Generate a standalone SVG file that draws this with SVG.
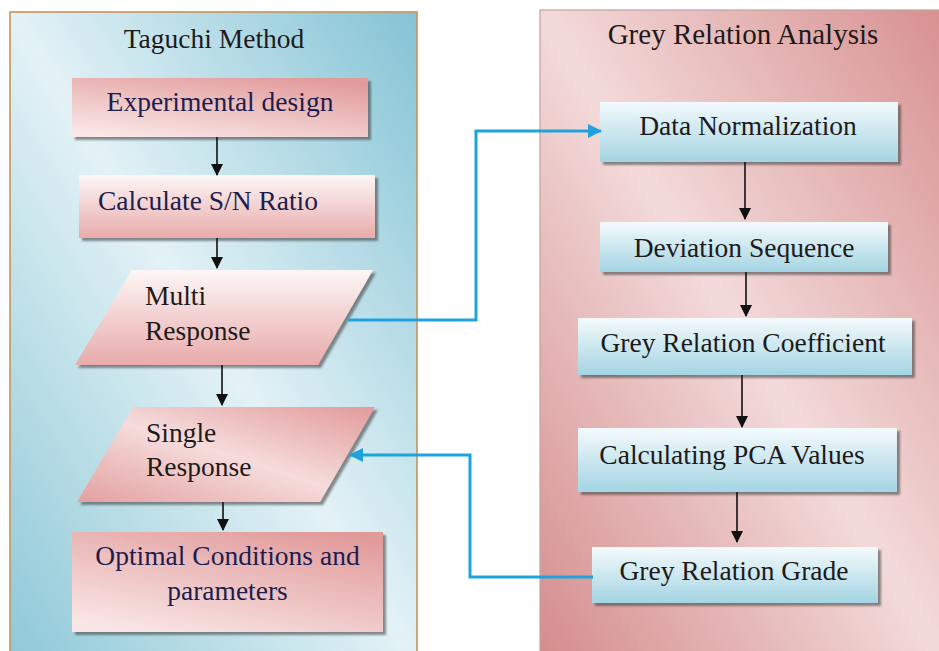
<svg xmlns="http://www.w3.org/2000/svg" width="939" height="651" viewBox="0 0 939 651">
  <defs>
    <!-- panel fills: darker toward two corners, light band along the diagonal -->
    <linearGradient id="gBluePanel" x1="1" y1="0" x2="0" y2="1">
      <stop offset="0" stop-color="#84c3d5"/>
      <stop offset="0.5" stop-color="#e3f2f6"/>
      <stop offset="1" stop-color="#8ec8d7"/>
    </linearGradient>
    <linearGradient id="gPinkPanel" x1="1" y1="0" x2="0" y2="1">
      <stop offset="0" stop-color="#d78f8f"/>
      <stop offset="0.5" stop-color="#f3dada"/>
      <stop offset="1" stop-color="#d48b8b"/>
    </linearGradient>
    <!-- node fills -->
    <linearGradient id="gPinkDeep" x1="0.8" y1="0" x2="0.2" y2="1">
      <stop offset="0" stop-color="#e29b9b"/>
      <stop offset="1" stop-color="#f9e6e6"/>
    </linearGradient>
    <linearGradient id="gPinkSoft" x1="0" y1="0" x2="0" y2="1">
      <stop offset="0" stop-color="#fdf6f6"/>
      <stop offset="1" stop-color="#e8abab"/>
    </linearGradient>
    <linearGradient id="gPinkBand" x1="1" y1="0" x2="0" y2="1">
      <stop offset="0" stop-color="#e29a9a"/>
      <stop offset="0.5" stop-color="#f6dcdc"/>
      <stop offset="1" stop-color="#e3a0a0"/>
    </linearGradient>
    <linearGradient id="gBlueBox" x1="0" y1="0" x2="0" y2="1">
      <stop offset="0" stop-color="#f4fafc"/>
      <stop offset="1" stop-color="#a4d5e3"/>
    </linearGradient>
    <filter id="shadow" x="-5%" y="-10%" width="115%" height="130%">
      <feDropShadow dx="3" dy="3" stdDeviation="1" flood-color="#444" flood-opacity="0.6"/>
    </filter>
    <marker id="arrowBlack" markerWidth="12" markerHeight="14" refX="11" refY="6" orient="auto" markerUnits="userSpaceOnUse">
      <path d="M0,0 L12,6 L0,12 Z" fill="#111"/>
    </marker>
    <marker id="arrowBlue" markerWidth="14" markerHeight="14" refX="13" refY="7" orient="auto" markerUnits="userSpaceOnUse">
      <path d="M0,0 L14,7 L0,14 Z" fill="#1ea3dd"/>
    </marker>
  </defs>
  <style>
    text { font-family: Liberation Serif, Times New Roman, Times, DejaVu Serif, serif; font-size: 27.5px; }
    .navy { fill: #1d1d4f; }
    .ink { fill: #1f1a1a; }
    .mid { text-anchor: middle; }
    .flow { stroke: #111; stroke-width: 1.6; fill: none; marker-end: url(#arrowBlack); }
    .link { stroke: #1ea3dd; stroke-width: 3; fill: none; marker-end: url(#arrowBlue); }
  </style>

  <rect width="939" height="651" fill="#ffffff"/>

  <!-- Taguchi Method panel -->
  <g id="panel-taguchi">
    <rect x="10" y="12" width="407" height="650" fill="url(#gBluePanel)" stroke="#c8925a" stroke-width="1.6"/>
    <text class="ink mid" x="214" y="48">Taguchi Method</text>
  </g>

  <!-- Grey Relation Analysis panel -->
  <g id="panel-gra">
    <rect x="540" y="10" width="410" height="660" fill="url(#gPinkPanel)" stroke="#c9a0a0" stroke-width="1.2"/>
    <text class="ink mid" x="743" y="44" style="font-size:29px">Grey Relation Analysis</text>
  </g>

  <!-- Taguchi steps -->
  <g id="node-experimental-design">
    <rect x="72" y="78" width="296" height="59" fill="url(#gPinkDeep)" filter="url(#shadow)"/>
    <text class="navy mid" x="220" y="111">Experimental design</text>
  </g>
  <g id="node-sn-ratio">
    <rect x="79" y="175" width="296" height="63" fill="url(#gPinkSoft)" filter="url(#shadow)"/>
    <text class="navy" x="98" y="210">Calculate S/N Ratio</text>
  </g>
  <g id="node-multi-response">
    <polygon points="132,270 373,270 318,365 75,365" fill="url(#gPinkSoft)" filter="url(#shadow)"/>
    <text class="ink" x="145" y="305">Multi</text>
    <text class="ink" x="145" y="340">Response</text>
  </g>
  <g id="node-single-response">
    <polygon points="133,407 375,407 320,502 77,502" fill="url(#gPinkBand)" filter="url(#shadow)"/>
    <text class="ink" x="146" y="442">Single</text>
    <text class="ink" x="146" y="476">Response</text>
  </g>
  <g id="node-optimal">
    <rect x="72" y="532" width="311" height="100" fill="url(#gPinkDeep)" filter="url(#shadow)"/>
    <text class="navy mid" x="227.5" y="565">Optimal Conditions and</text>
    <text class="navy mid" x="227.5" y="600">parameters</text>
  </g>

  <!-- Grey relation steps -->
  <g id="node-normalization">
    <rect x="600" y="102" width="298" height="60" fill="url(#gBlueBox)" filter="url(#shadow)"/>
    <text class="ink mid" x="748" y="135">Data Normalization</text>
  </g>
  <g id="node-deviation">
    <rect x="600" y="222" width="288" height="50" fill="url(#gBlueBox)" filter="url(#shadow)"/>
    <text class="ink mid" x="744" y="257">Deviation Sequence</text>
  </g>
  <g id="node-coefficient">
    <rect x="578" y="318" width="334" height="57" fill="url(#gBlueBox)" filter="url(#shadow)"/>
    <text class="ink mid" x="743" y="352">Grey Relation Coefficient</text>
  </g>
  <g id="node-pca">
    <rect x="578" y="428" width="319" height="64" fill="url(#gBlueBox)" filter="url(#shadow)"/>
    <text class="ink mid" x="732" y="464">Calculating PCA Values</text>
  </g>
  <g id="node-grade">
    <rect x="592" y="547" width="286" height="56" fill="url(#gBlueBox)" filter="url(#shadow)"/>
    <text class="ink mid" x="734" y="580">Grey Relation Grade</text>
  </g>

  <!-- connectors -->
  <g id="connectors">
    <line class="flow" x1="217" y1="137" x2="217" y2="175"/>
    <line class="flow" x1="217" y1="238" x2="217" y2="268"/>
    <line class="flow" x1="222" y1="365" x2="222" y2="405"/>
    <line class="flow" x1="223" y1="502" x2="223" y2="530"/>
    <line class="flow" x1="745" y1="162" x2="745" y2="219"/>
    <line class="flow" x1="746" y1="272" x2="746" y2="316"/>
    <line class="flow" x1="742" y1="375" x2="742" y2="427"/>
    <line class="flow" x1="737" y1="492" x2="737" y2="542"/>
    <polyline class="link" points="348,320 476,320 476,131 601,131"/>
    <polyline class="link" points="593,577 470,577 470,455 350,455"/>
  </g>
</svg>
